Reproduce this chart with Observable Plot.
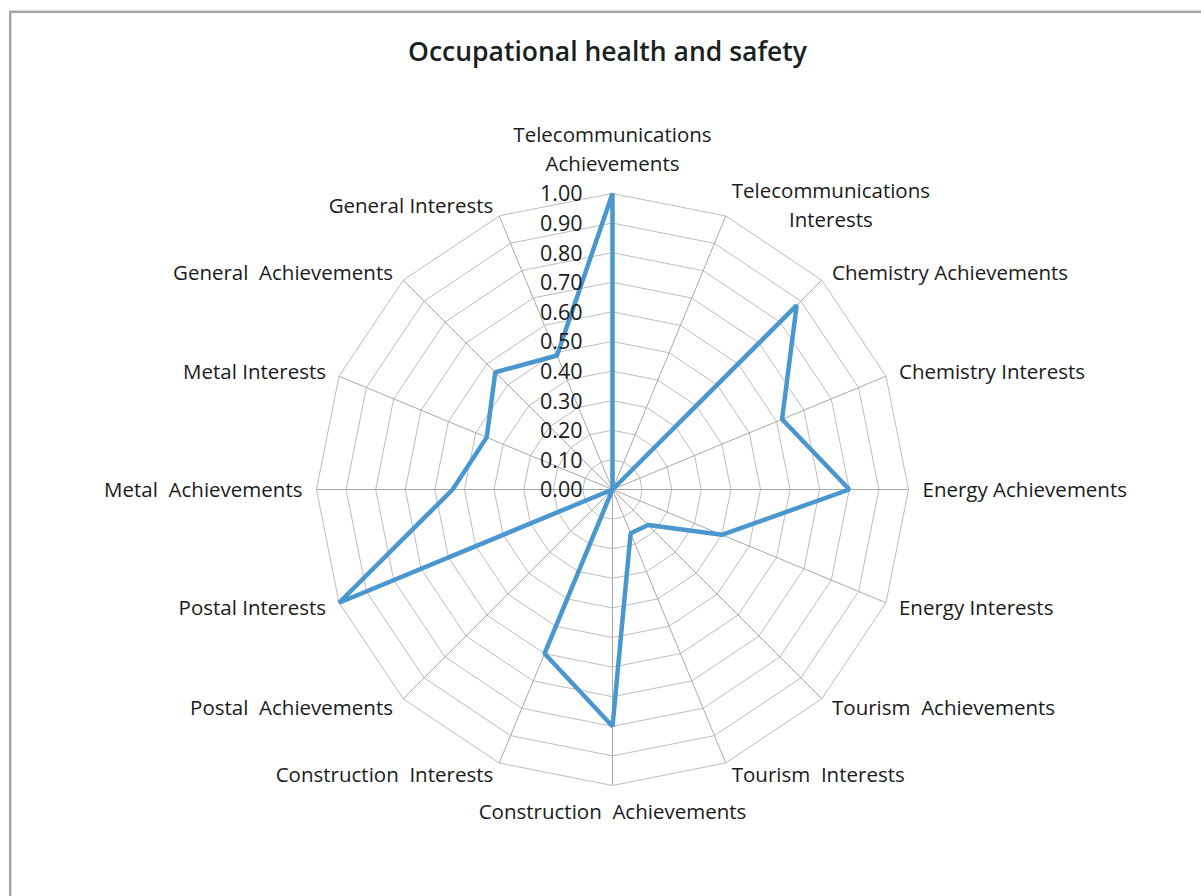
<!DOCTYPE html>
<html>
<head>
<meta charset="utf-8">
<script src="https://cdn.jsdelivr.net/npm/d3@7"></script>
<script src="https://cdn.jsdelivr.net/npm/@observablehq/plot@0.6"></script>
<style>
  html, body { margin: 0; padding: 0; background: #fff; overflow: hidden; }
  #chart svg { display: block; }
  #chart svg text, #chart svg tspan { white-space: pre; }
</style>
</head>
<body>
<div id="chart"></div>
<script>
// ---- data ----
const title = "Occupational health and safety";
const categories = [
  "Telecommunications\nAchievements",
  "Telecommunications\nInterests",
  "Chemistry Achievements",
  "Chemistry Interests",
  "Energy Achievements",
  "Energy Interests",
  "Tourism  Achievements",
  "Tourism  Interests",
  "Construction  Achievements",
  "Construction  Interests",
  "Postal  Achievements",
  "Postal Interests",
  "Metal  Achievements",
  "Metal Interests",
  "General  Achievements",
  "General Interests"
];
const values = [1.00, 0.00, 0.88, 0.62, 0.80, 0.40, 0.17, 0.16, 0.80, 0.60, 0.00, 1.00, 0.54, 0.46, 0.56, 0.49];
const ticks = [0.0, 0.1, 0.2, 0.3, 0.4, 0.5, 0.6, 0.7, 0.8, 0.9, 1.0];
const tickLabels = ["0.00", "0.10", "0.20", "0.30", "0.40", "0.50", "0.60", "0.70", "0.80", "0.90", "1.00"];

// ---- layout ----
const W = 1201, H = 896;
const CX = 612, CY = 489, R = 296;
const N = categories.length;
const ang = i => i * 2 * Math.PI / N;
const labelFont = 20.5, lineH = 1.42;
const font = "'Open Sans', sans-serif";

const ctx = document.createElement("canvas").getContext("2d");
ctx.font = `${labelFont}px "Open Sans"`;

const points = values.map((v, i) => ({i, v, x: v * Math.sin(ang(i)), y: v * Math.cos(ang(i))}));
const spokes = categories.map((c, i) => ({i, x: Math.sin(ang(i)), y: Math.cos(ang(i))}));
const rings = ticks.filter(t => t > 0).flatMap(t =>
  categories.map((c, i) => ({t, x: t * Math.sin(ang(i)), y: t * Math.cos(ang(i))})));
const tickData = ticks.map((t, k) => ({t, label: tickLabels[k]}));

const labels = categories.map((c, i) => {
  const s = Math.sin(ang(i)), co = Math.cos(ang(i));
  const lines = c.split("\n");
  const w = Math.max(...lines.map(l => ctx.measureText(l).width));
  const h = lines.length * labelFont * lineH;
  const side = Math.abs(s) < 0.01 ? 0 : Math.sign(s);
  const g = 1 + 13 * Math.abs(s);
  const dxp = side * (g + w / 2);
  const dyp = side === 0 ? (co > 0 ? -(17.5 + h / 2) : (10 + h / 2)) : -12 * co - 1.5;
  return {text: c, x: s + dxp / R, y: co - dyp / R};
});

const chart = Plot.plot({
  width: W,
  height: H,
  margin: 0,
  style: {fontFamily: font, background: "#fff"},
  x: {domain: [-CX / R, (W - CX) / R], range: [0, W], axis: null},
  y: {domain: [-(H - CY) / R, CY / R], range: [H, 0], axis: null},
  marks: [
    Plot.frame({stroke: "#a6a6a6", strokeWidth: 2.5, insetLeft: 9.7, insetTop: 11.3, insetRight: -20, insetBottom: -20}),
    Plot.line(rings, {x: "x", y: "y", z: "t", curve: "linear-closed", stroke: "#bdbdbd", strokeWidth: 1}),
    Plot.link(spokes, {x1: 0, y1: 0, x2: "x", y2: "y", stroke: "#a9a9a9", strokeWidth: 1}),
    Plot.line(points, {x: "x", y: "y", curve: "linear-closed", stroke: "#4a97cf", strokeWidth: 4.5, strokeLinejoin: "miter"}),
    Plot.text(tickData, {x: 0, y: "t", text: "label", textAnchor: "end", dx: -30, dy: 1, fontSize: 21.5, fill: "#1a1a1a"}),
    Plot.text(labels, {x: "x", y: "y", text: "text", textAnchor: "middle", lineAnchor: "middle", lineHeight: lineH, fontSize: labelFont, fill: "#1a1a1a"}),
    Plot.text([title], {frameAnchor: "top", dx: 6.5, dy: 52, lineAnchor: "middle", fontSize: 26.5, fontWeight: 600, fill: "#1a1f22"})
  ]
});
document.getElementById("chart").appendChild(chart);
</script>
</body>
</html>
